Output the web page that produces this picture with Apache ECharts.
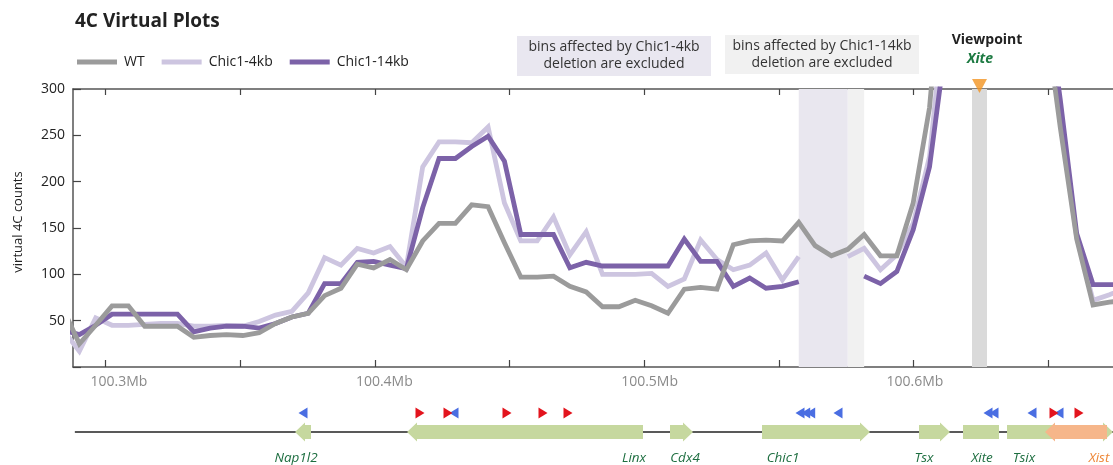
<!DOCTYPE html>
<html><head><meta charset="utf-8">
<script src="https://cdn.jsdelivr.net/npm/echarts@6/dist/echarts.min.js"></script>
<style>html,body{margin:0;padding:0;background:#fff}#c{width:1113px;height:465px}</style>
</head><body><div id="c"></div>
<script>
const FONT = "'Open Sans', 'Noto Sans', sans-serif";

// ---- axis ranges and ticks (Mb) ----
const xMinMb = 100.28266, xMaxMb = 100.67467;
const xLabelMb = [100.3, 100.4, 100.5, 100.6];
const xTickMb = [100.29472, 100.34561, 100.39649, 100.44700, 100.49789, 100.54878, 100.59929, 100.65018];
const yTicks = [50, 100, 150, 200, 250, 300];

// ---- bins ----
const binStartMb = 100.27889;
const binStepMb = 0.0061628;

const wt = [63, 25, 45, 66, 66, 44, 44, 44, 32, 34, 35, 34, 37, 47, 54, 58, 77, 85, 111, 107,
  116, 105, 136, 155, 155, 175, 173, 134, 97, 97, 98, 87, 81, 65, 65, 72, 66, 58, 84, 86,
  84, 132, 136, 137, 136, 156, 131, 120, 127, 143, 120, 120, 177, 280, 480, 700, 750, 750, 700, 550,
  390, 258, 138, 67, 70, 72];
const chic4kb = [40, 17, 53, 45, 45, 46, 47, 47, 44, 44, 45, 44, 49, 56, 60, 80, 118, 110, 128, 123,
  130, 108, 216, 243, 243, 242, 259, 177, 136, 136, 162, 121, 146, 100, 100, 100, 101, 87, 95, 137,
  116, 105, 110, 123, 94, 119, null, null, 119, 128, 105, 121, 155, 227, 400, 700, 750, 750, 700, 600,
  400, 270, 140, 72, 78, 85];
const chic14kb = [40, 35, 45, 57, 57, 57, 57, 57, 38, 42, 44, 44, 42, 47, 54, 58, 90, 90, 113, 114,
  110, 106, 172, 225, 225, 238, 249, 222, 143, 143, 143, 107, 113, 109, 109, 109, 109, 109, 138, 114,
  114, 87, 96, 85, 87, 92, null, null, null, 98, 90, 103, 148, 216, 350, 700, 750, 750, 700, 600,
  420, 288, 144, 89, 89, 89];

// ---- shaded regions (Mb) ----
const excl4kbMb = [100.55622, 100.57471];
const excl14kbMb = [100.57471, 100.58087];
const viewpointBandMb = [100.62152, 100.62718];
const viewpointMb = 100.62435;

// ---- genes ----
const geneNames = ['Nap1l2', 'Linx', 'Cdx4', 'Chic1', 'Tsx', 'Xite', 'Tsix', 'Xist'];
const geneStartMb = [100.36634, 100.40856, 100.50769, 100.54237, 100.60155, 100.61813, 100.63472, 100.64904];
const geneEndMb = [100.37237, 100.49751, 100.51636, 100.58308, 100.61323, 100.63170, 100.67467, 100.67241];
const geneStrand = [-1, -1, 1, 1, 1, 0, 1, -1];
const geneLabelMb = [100.36672, 100.49412, 100.51334, 100.55028, 100.60343, 100.62529, 100.64112, 100.66939];
const geneIsXist = [0, 0, 0, 0, 0, 0, 0, 1];

// ---- motif orientation marks ----
const fwdMotifMb = [100.41346, 100.42401, 100.44625, 100.45982, 100.46924, 100.65243, 100.66185];
const revMotifMb = [100.36936, 100.42627, 100.55669, 100.55884, 100.56073, 100.57101, 100.62755, 100.62982, 100.64414, 100.65432];

const C_WT = '#9b9b9b', C_4 = '#cdc5e0', C_14 = '#7c62a8';

function pairs(vals) { return vals.map((v, i) => [binStartMb + i * binStepMb, v]); }

const chart = echarts.init(document.getElementById('c'), null, { renderer: 'canvas' });

const axisLineStyle = { color: '#555', width: 1.5 };

const option = {
  animation: false,
  textStyle: { fontFamily: FONT },
  title: {
    text: '4C Virtual Plots', left: 75, top: 12, padding: 0,
    textStyle: { fontFamily: FONT, fontSize: 19, fontWeight: 'bold', color: '#222' }
  },
  legend: {
    left: 77, top: 55, padding: 0, itemWidth: 40, itemHeight: 5, itemGap: 17, icon: 'rect',
    data: ['WT', 'Chic1-4kb', 'Chic1-14kb'],
    textStyle: { fontFamily: FONT, fontSize: 14, color: '#222', padding: [0, 0, 0, 2] }
  },
  grid: [
    { left: 73, right: 0, top: 89, height: 278 },
    { left: 73, right: 0, top: 424, height: 16 }
  ],
  xAxis: [
    {
      gridIndex: 0, type: 'value', min: xMinMb, max: xMaxMb, position: 'bottom',
      axisLine: { show: true, lineStyle: axisLineStyle },
      axisTick: { show: true, inside: true, length: 7, customValues: xTickMb, lineStyle: { color: '#444', width: 1.2 } },
      axisLabel: { customValues: xLabelMb, formatter: v => v.toFixed(1) + 'Mb', color: '#8a8a8a', fontSize: 14, margin: 8, fontFamily: FONT },
      splitLine: { show: false }
    },
    {
      gridIndex: 0, type: 'value', min: xMinMb, max: xMaxMb, position: 'top',
      axisLine: { show: true, lineStyle: axisLineStyle },
      axisTick: { show: true, inside: true, length: 6, customValues: xTickMb, lineStyle: { color: '#444', width: 1.2 } },
      axisLabel: { show: false }, splitLine: { show: false }
    },
    { gridIndex: 1, type: 'value', min: xMinMb, max: xMaxMb, show: false }
  ],
  yAxis: [
    {
      gridIndex: 0, type: 'value', min: 0, max: 300, interval: 50,
      axisLine: { show: true, lineStyle: axisLineStyle },
      axisTick: { show: true, inside: true, length: 8, lineStyle: { color: '#444', width: 1.2 } },
      axisLabel: { formatter: v => (yTicks.indexOf(v) >= 0 ? String(v) : ''), color: '#222', fontSize: 14, margin: 8, fontFamily: FONT },
      splitLine: { show: false },
      name: 'virtual 4C counts', nameLocation: 'middle', nameGap: 48,
      nameTextStyle: { fontSize: 13, color: '#222', fontFamily: FONT, padding: [0, 0, 0, 12] }
    },
    { gridIndex: 1, type: 'value', min: 0, max: 1, show: false }
  ],
  series: [
    {
      name: 'bands', type: 'line', xAxisIndex: 0, yAxisIndex: 0, data: [], z: 1, silent: true,
      markArea: {
        silent: true,
        data: [
          [{ xAxis: excl4kbMb[0], itemStyle: { color: '#e9e7ef' } }, { xAxis: excl4kbMb[1] }],
          [{ xAxis: excl14kbMb[0], itemStyle: { color: '#f1f1f1' } }, { xAxis: excl14kbMb[1] }],
          [{ xAxis: viewpointBandMb[0], itemStyle: { color: '#dadada' } }, { xAxis: viewpointBandMb[1] }]
        ]
      }
    },
    {
      name: 'Chic1-4kb', type: 'line', xAxisIndex: 0, yAxisIndex: 0, data: pairs(chic4kb), z: 3,
      showSymbol: false, connectNulls: false, clip: true, color: C_4,
      lineStyle: { width: 4.8, color: C_4, join: 'miter' }
    },
    {
      name: 'Chic1-14kb', type: 'line', xAxisIndex: 0, yAxisIndex: 0, data: pairs(chic14kb), z: 4,
      showSymbol: false, connectNulls: false, clip: true, color: C_14,
      lineStyle: { width: 4.8, color: C_14, join: 'miter' }
    },
    {
      name: 'WT', type: 'line', xAxisIndex: 0, yAxisIndex: 0, data: pairs(wt), z: 5,
      showSymbol: false, connectNulls: false, clip: true, color: C_WT,
      lineStyle: { width: 4.8, color: C_WT, join: 'miter' }
    },
    {
      name: 'viewpoint', type: 'scatter', xAxisIndex: 0, yAxisIndex: 0, clip: false, z: 10, silent: true,
      data: [[viewpointMb, 300]], symbol: 'triangle', symbolRotate: 180, symbolSize: [15, 14], symbolOffset: [0, -3],
      itemStyle: { color: '#f39321' }
    },
    {
      name: 'geneLine', type: 'line', xAxisIndex: 2, yAxisIndex: 1, silent: true, z: 2,
      data: [[xMinMb + 0.0007, 0.5], [xMaxMb, 0.5]], showSymbol: false,
      lineStyle: { color: '#222', width: 1.5 }
    },
    {
      name: 'genes', type: 'custom', xAxisIndex: 2, yAxisIndex: 1, silent: true, z: 3,
      data: geneNames.map((n, i) => [geneStartMb[i], geneEndMb[i], geneStrand[i], geneLabelMb[i], geneIsXist[i], n]),
      renderItem: function (params, api) {
        const s = api.value(0), e = api.value(1), strand = api.value(2), lm = api.value(3), isX = api.value(4);
        const name = geneNames[params.dataIndex];
        const p0 = api.coord([s, 0.5]), p1 = api.coord([e, 0.5]);
        const y = p0[1], x0 = p0[0], x1 = p1[0];
        const h = 7, H = 9.5, hl = 10;
        let pts;
        if (strand > 0) {
          pts = [[x0, y - h], [x1 - hl, y - h], [x1 - hl, y - H], [x1, y], [x1 - hl, y + H], [x1 - hl, y + h], [x0, y + h]];
        } else if (strand < 0) {
          pts = [[x1, y - h], [x0 + hl, y - h], [x0 + hl, y - H], [x0, y], [x0 + hl, y + H], [x0 + hl, y + h], [x1, y + h]];
        } else {
          pts = [[x0, y - h], [x1, y - h], [x1, y + h], [x0, y + h]];
        }
        const lp = api.coord([lm, 0.5]);
        return {
          type: 'group',
          children: [
            { type: 'polygon', shape: { points: pts }, style: { fill: isX ? '#f6b68a' : '#c6d89f' }, z2: isX ? 2 : 1 },
            { type: 'text', x: lp[0], y: y + 26, style: { text: name, fill: isX ? '#ee8636' : '#1d6e40', font: 'italic 13.5px ' + FONT, align: 'center', verticalAlign: 'middle' } }
          ]
        };
      }
    },
    {
      name: 'motifs', type: 'custom', xAxisIndex: 2, yAxisIndex: 1, silent: true, z: 4,
      data: revMotifMb.map(m => [m, -1]).concat(fwdMotifMb.map(m => [m, 1])),
      renderItem: function (params, api) {
        const p = api.coord([api.value(0), 0.5]);
        const dir = api.value(1);
        const x = p[0], y = p[1] - 19, w = 4.5, hh = 5.5;
        const pts = dir > 0 ? [[x - w, y - hh], [x + w, y], [x - w, y + hh]] : [[x + w, y - hh], [x - w, y], [x + w, y + hh]];
        return { type: 'polygon', shape: { points: pts }, style: { fill: dir > 0 ? '#e3141d' : '#4a6ee2' } };
      }
    }
  ],
  graphic: [
    { type: 'rect', shape: { x: 517, y: 36, width: 194, height: 40 }, style: { fill: '#e9e7f0' }, z: 0 },
    { type: 'text', x: 614, y: 56, style: { text: 'bins affected by Chic1-4kb\ndeletion are excluded', fill: '#333', font: '14px ' + FONT, align: 'center', verticalAlign: 'middle', lineHeight: 17 }, z: 1 },
    { type: 'rect', shape: { x: 725, y: 35, width: 194, height: 39 }, style: { fill: '#f1f1f1' }, z: 0 },
    { type: 'text', x: 822, y: 55, style: { text: 'bins affected by Chic1-14kb\ndeletion are excluded', fill: '#333', font: '14px ' + FONT, align: 'center', verticalAlign: 'middle', lineHeight: 17 }, z: 1 },
    { type: 'text', x: 987, y: 40, style: { text: 'Viewpoint', fill: '#222', font: 'bold 14px ' + FONT, align: 'center', verticalAlign: 'middle' } },
    { type: 'text', x: 980, y: 59, style: { text: 'Xite', fill: '#1d7a42', font: 'italic bold 14px ' + FONT, align: 'center', verticalAlign: 'middle' } }
  ]
};
chart.setOption(option);
</script>
</body></html>
